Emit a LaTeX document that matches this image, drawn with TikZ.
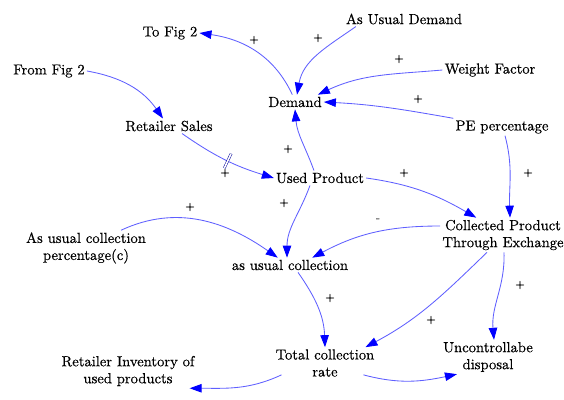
\documentclass[tikz,border=0pt]{standalone}
\usepackage{fontspec}
\setmainfont{lmroman10-regular.otf}[FakeBold=0.4]
\usetikzlibrary{arrows.meta,calc,decorations.markings}
\begin{document}
\begin{tikzpicture}[x=1pt,y=1pt,
  var/.style={inner sep=2pt, align=center, font=\fontsize{14.6}{17}\selectfont},
  pol/.style={inner sep=0pt, font=\fontsize{12}{12}\selectfont},
  lnk/.style={draw={rgb,255:red,95;green,95;blue,255}, line width=0.85pt, -{Triangle[length=12pt,width=8.5pt,color=blue]}},
  delaymark/.style={postaction={decorate, decoration={markings, mark=at position #1 with {\draw[-, blue!60!black, line width=0.5pt, double, double distance=1.6pt] (0,-8)--(0,8);}}}}
]
\useasboundingbox (0,0) rectangle (564,-399);

\node[var] (tofig)   at (170,-33)  {To Fig 2};
\node[var] (asud)    at (404,-19)  {As Usual Demand};
\node[var] (fromfig) at (49,-71)   {From Fig 2};
\node[var] (weight)  at (490,-70)  {Weight Factor};
\node[var] (demand)  at (295,-102) {Demand};
\node[var] (pe)      at (502,-127) {PE percentage};
\node[var] (rsales)  at (169,-126) {Retailer Sales};
\node[var] (used)    at (320,-178) {Used Product};
\node[var] (cpte)    at (503,-235) {Collected Product\\Through Exchange};
\node[var] (aucp)    at (86,-248)  {As usual collection\\percentage(c)};
\node[var] (auc)     at (290,-265) {as usual collection};
\node[var] (tcr)     at (325,-363) {Total collection\\rate};
\node[var] (unc)     at (488,-357) {Uncontrollabe\\disposal};
\node[var] (rinv)    at (128,-371) {Retailer Inventory of\\used products};

\draw[lnk] (demand.110) to[out=115,in=-8] (tofig.east);
\draw[lnk] ($(asud.south west)+(12,0)$) to[out=215,in=80] ($(demand.north)+(2,0)$);
\draw[lnk] (weight.west) to[out=185,in=25] ($(demand.north east)+(-6,0)$);
\draw[lnk] (pe.north west) to[out=170,in=-3] (demand.east);
\draw[lnk] ($(pe.south)+(3,0)$) to[out=-75,in=92] ($(cpte.north)+(7,0)$);
\draw[lnk] ($(used.north)+(-6,0)$) to[out=110,in=-85] (demand.south);
\draw[lnk] (fromfig.east) to[out=-10,in=125] ($(rsales.north)+(-6,0)$);
\draw[lnk, delaymark=0.52] ($(rsales.south)+(13,0)$) to[out=-35,in=163] (used.west);
\draw[lnk] (used.east) to[out=-8,in=150] ($(cpte.north west)+(36,0)$);
\draw[lnk] ($(used.south)+(-10,0)$) to[out=-110,in=90] ($(auc.north)+(-3,0)$);
\draw[lnk] ($(aucp.north)+(35,0)$) to[out=25,in=145] ($(auc.north west)+(48,0)$);
\draw[lnk] ($(cpte.west)+(0,9)$) to[out=180,in=28] ($(auc.north east)+(-38,0)$);
\draw[lnk] ($(auc.south)+(8,0)$) to[out=-55,in=92] (tcr.north);
\draw[lnk] ($(cpte.south)+(-16,0)$) to[out=-136,in=28] ($(tcr.north east)+(-11,0)$);
\draw[lnk] ($(cpte.south)+(1,0)$) to[out=-88,in=95] ($(unc.north)+(6,0)$);
\draw[lnk] ($(tcr.south west)+(8,4)$) to[out=-155,in=0] ($(rinv.south east)+(-7,0)$);
\draw[lnk] ($(tcr.south east)+(-13,4)$) to[out=-15,in=192] ($(unc.south west)+(16,0)$);

\node[pol] (p1)  at (254,-40)  {+};
\node[pol] (p2)  at (318,-38)  {+};
\node[pol] (p3)  at (399,-59)  {+};
\node[pol] (p4)  at (418,-99)  {+};
\node[pol] (p5)  at (528,-173) {+};
\node[pol] (p6)  at (288,-149) {+};
\node[pol] (p7)  at (225,-173) {+};
\node[pol] (p8)  at (404,-173) {+};
\node[pol] (p9)  at (284,-203) {+};
\node[pol] (p10) at (190,-207) {+};
\node[pol] (p11) at (378,-220) {-};
\node[pol] (p12) at (330,-298) {+};
\node[pol] (p13) at (431,-320) {+};
\node[pol] (p14) at (520,-285) {+};
\end{tikzpicture}
\end{document}
